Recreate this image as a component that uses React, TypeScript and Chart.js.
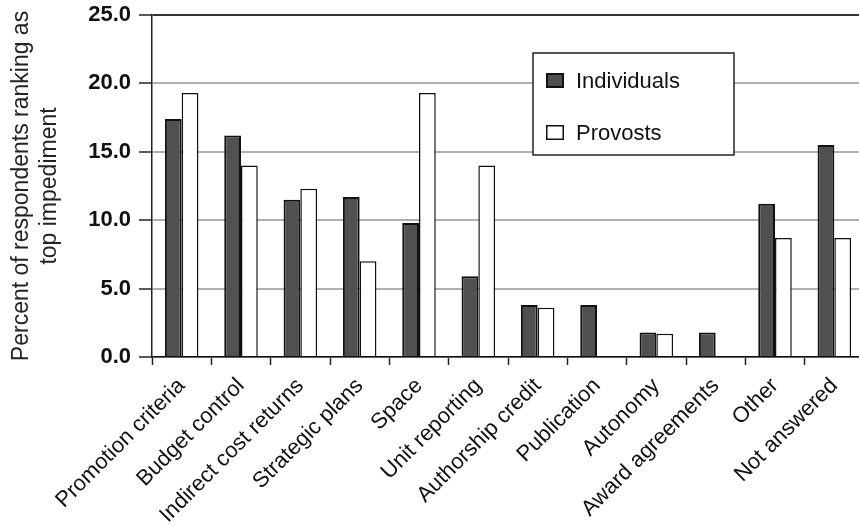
import React, { useEffect, useRef } from "react";
import { Chart, registerables } from "chart.js";

Chart.register(...registerables);

const categories = [
  "Promotion criteria",
  "Budget control",
  "Indirect cost returns",
  "Strategic plans",
  "Space",
  "Unit reporting",
  "Authorship credit",
  "Publication",
  "Autonomy",
  "Award agreements",
  "Other",
  "Not answered",
];
const individuals = [17.4, 16.2, 11.5, 11.7, 9.8, 5.9, 3.8, 3.8, 1.8, 1.8, 11.2, 15.5];
const provosts = [19.3, 14.0, 12.3, 7.0, 19.3, 14.0, 3.6, 0, 1.7, 0, 8.7, 8.7];
const yTicks = [0, 5, 10, 15, 20, 25];
const seriesNames = ["Individuals", "Provosts"];
const yTitle = ["Percent of respondents ranking as", "top impediment"];

const FONT = "'Liberation Sans', Arial, Helvetica, sans-serif";

const legendBox = {
  id: "legendBox",
  afterDatasetsDraw(chart: any) {
    const { ctx, chartArea } = chart;
    const x = chartArea.left + 381;
    const y = chartArea.top + 38;
    const w = 201;
    const h = 102;
    ctx.save();
    ctx.fillStyle = "#ffffff";
    ctx.fillRect(x, y, w, h);
    ctx.strokeStyle = "#222";
    ctx.lineWidth = 1.5;
    ctx.strokeRect(x, y, w, h);
    ctx.font = `22px ${FONT}`;
    ctx.textBaseline = "alphabetic";
    ctx.textAlign = "left";
    chart.data.datasets.forEach((ds: any, i: number) => {
      const sy = y + 20 + i * 52;
      ctx.fillStyle = ds.backgroundColor;
      ctx.fillRect(x + 13, sy, 18, 15);
      ctx.strokeStyle = "#111";
      ctx.lineWidth = ds.borderWidth;
      ctx.strokeRect(x + 13 + ds.borderWidth / 2, sy + ds.borderWidth / 2, 18 - ds.borderWidth, 15 - ds.borderWidth);
      ctx.fillStyle = "#111";
      ctx.fillText(ds.label, x + 43, sy + 15);
    });
    ctx.restore();
  },
};

export default function App() {
  const canvasRef = useRef<HTMLCanvasElement | null>(null);

  useEffect(() => {
    if (!canvasRef.current) return;
    const chart = new Chart(canvasRef.current, {
      type: "bar",
      data: {
        labels: categories,
        datasets: [
          {
            label: seriesNames[0],
            data: individuals,
            backgroundColor: "#505050",
            borderColor: "#111",
            borderWidth: 2,
            categoryPercentage: 0.565,
            barPercentage: 1.0,
          },
          {
            label: seriesNames[1],
            data: provosts,
            backgroundColor: "#ffffff",
            borderColor: "#111",
            borderWidth: 1.5,
            categoryPercentage: 0.565,
            barPercentage: 1.0,
          },
        ],
      },
      options: {
        animation: false,
        responsive: true,
        maintainAspectRatio: false,
        layout: { padding: { top: 15, left: 0, right: 0, bottom: 0 } },
        plugins: {
          legend: { display: false },
          tooltip: { enabled: false },
        },
        scales: {
          x: {
            grid: {
              offset: true,
              drawOnChartArea: false,
              drawTicks: true,
              tickLength: 8,
              tickColor: "#222",
              tickWidth: 1.5,
            },
            border: { color: "#111", width: 1.5 },
            ticks: {
              autoSkip: false,
              minRotation: 45,
              maxRotation: 45,
              font: { family: FONT, size: 22 },
              color: "#111",
              padding: 8,
            },
            afterFit: (s: any) => {
              s.height = 170;
              s.paddingLeft = 0;
              s.paddingRight = 0;
            },
          },
          y: {
            min: 0,
            max: 25,
            afterBuildTicks: (s: any) => {
              s.ticks = yTicks.map((v) => ({ value: v }));
            },
            ticks: {
              callback: (v: any) => Number(v).toFixed(1),
              font: { family: FONT, size: 22, weight: "bold" },
              color: "#111",
              padding: 8,
            },
            grid: {
              color: (c: any) => (c.tick && c.tick.value === 25 ? "#333" : "#b0b0b0"),
              lineWidth: 2,
              tickColor: "#222",
              tickLength: 13,
              tickWidth: 1.5,
            },
            border: { color: "#222", width: 1.5 },
            title: {
              display: true,
              text: yTitle,
              font: { family: FONT, size: 23 },
              color: "#222",
              padding: { top: 8, bottom: 0 },
            },
            afterFit: (s: any) => {
              s.width = 152;
              s.paddingTop = 0;
              s.paddingBottom = 0;
            },
          },
        },
      },
      plugins: [legendBox],
    });
    return () => chart.destroy();
  }, []);

  return (
    <div
      style={{
        position: "fixed",
        left: 0,
        top: 0,
        width: 859,
        height: 527,
        overflow: "hidden",
        background: "#fff",
      }}
    >
      <div style={{ width: 864, height: 527, position: "relative" }}>
        <canvas ref={canvasRef} />
      </div>
    </div>
  );
}
